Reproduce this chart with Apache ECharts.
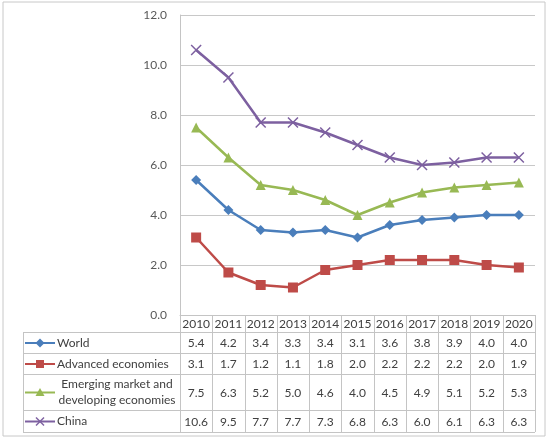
<!DOCTYPE html>
<html>
<head>
<meta charset="utf-8">
<script src="https://cdn.jsdelivr.net/npm/echarts@6/dist/echarts.min.js"></script>
<style>html,body{margin:0;padding:0;background:#fff}#c{width:550px;height:440px}</style>
</head>
<body>
<div id="c"></div>
<script>
const years = ['2010','2011','2012','2013','2014','2015','2016','2017','2018','2019','2020'];
const world = [5.4,4.2,3.4,3.3,3.4,3.1,3.6,3.8,3.9,4.0,4.0];
const advanced = [3.1,1.7,1.2,1.1,1.8,2.0,2.2,2.2,2.2,2.0,1.9];
const emerging = [7.5,6.3,5.2,5.0,4.6,4.0,4.5,4.9,5.1,5.2,5.3];
const china = [10.6,9.5,7.7,7.7,7.3,6.8,6.3,6.0,6.1,6.3,6.3];
const seriesNames = ['World','Advanced economies','Emerging market and\ndeveloping economies','China'];
const yTicks = [0,2,4,6,8,10,12];

const FONT = 'Lato';
const TXT = '#404040';
const LINE = '#c4c4c4';
const colors = ['#4a7ebb','#be4b48','#98b954','#7d60a0'];
const allData = [world, advanced, emerging, china];

// table layout (pixels)
const rowBounds = [315, 332, 353, 374, 410, 432];
const labelLeft = 23, tableRight = 535, plotLeft = 180;

const xPath = 'path://M0,0L10,10M10,0L0,10';
const symbols = ['diamond','rect','triangle', xPath];
const symSizes = [10, 10, 10, 10];

const chart = echarts.init(document.getElementById('c'), null, {renderer:'canvas'});

function markerGraphic(k, cx, cy) {
  const c = colors[k];
  if (k === 0) return {type:'polygon', shape:{points:[[cx,cy-4.5],[cx+4.5,cy],[cx,cy+4.5],[cx-4.5,cy]]}, style:{fill:c}};
  if (k === 1) return {type:'rect', shape:{x:cx-4,y:cy-4,width:8,height:8}, style:{fill:c}};
  if (k === 2) return {type:'polygon', shape:{points:[[cx,cy-4.5],[cx+4.5,cy+3.5],[cx-4.5,cy+3.5]]}, style:{fill:c}};
  return {type:'group', children:[
    {type:'line', shape:{x1:cx-4,y1:cy-4,x2:cx+4,y2:cy+4}, style:{stroke:c,lineWidth:1.5}},
    {type:'line', shape:{x1:cx+4,y1:cy-4,x2:cx-4,y2:cy+4}, style:{stroke:c,lineWidth:1.5}}
  ]};
}

const graphics = [];
graphics.push({type:'rect', shape:{x:3,y:2,width:542,height:434}, style:{fill:'none', stroke:'#c8c8c8', lineWidth:1}, silent:true});
// horizontal table lines
for (let i = 1; i < rowBounds.length; i++) {
  graphics.push({type:'line', shape:{x1:labelLeft, y1:rowBounds[i]+0.5, x2:tableRight, y2:rowBounds[i]+0.5}, style:{stroke:LINE, lineWidth:1}});
}
graphics.push({type:'line', shape:{x1:labelLeft+0.5, y1:rowBounds[1], x2:labelLeft+0.5, y2:rowBounds[5]}, style:{stroke:LINE, lineWidth:1}});
// legend keys + row labels
for (let k = 0; k < 4; k++) {
  const cy = (rowBounds[k+1] + rowBounds[k+2]) / 2 + 0.5;
  graphics.push({type:'line', shape:{x1:25, y1:cy, x2:55, y2:cy}, style:{stroke:colors[k], lineWidth:2}});
  graphics.push(markerGraphic(k, 40, cy));
  const two = seriesNames[k].indexOf('\n') >= 0;
  graphics.push({type:'text', x: two ? 117 : 57, y: cy, style:{text:seriesNames[k], fill:TXT, font:'12px ' + FONT, textAlign: two ? 'center' : 'left', textVerticalAlign:'middle', lineHeight:16}});
}

const lineSeries = allData.map((d, k) => ({
  name: seriesNames[k],
  type: 'line',
  data: d,
  symbol: symbols[k],
  symbolSize: symSizes[k],
  showSymbol: true,
  lineStyle: {color: colors[k], width: 2.5},
  itemStyle: {color: colors[k], borderColor: colors[k], borderWidth: k === 3 ? 1.5 : 0},
  z: 3
}));

const tableSeries = {
  type: 'custom',
  data: years.map((y, i) => [i, 0]),
  encode: {x: 0, y: 1},
  clip: false,
  silent: true,
  z: 5,
  renderItem: function(params, api) {
    const i = api.value(0);
    const p = api.coord([i, 0]);
    const w = api.size([1, 0])[0];
    const cx = p[0];
    const children = [];
    const hy = (rowBounds[0] + rowBounds[1]) / 2 + 1;
    children.push({type:'text', x: cx, y: hy, style:{text: years[i], fill: TXT, font: '12px ' + FONT, textAlign:'center', textVerticalAlign:'middle'}});
    for (let k = 0; k < 4; k++) {
      const cy = (rowBounds[k+1] + rowBounds[k+2]) / 2 + 1;
      children.push({type:'text', x: cx, y: cy, style:{text: allData[k][i].toFixed(1), fill: TXT, font: '12px ' + FONT, textAlign:'center', textVerticalAlign:'middle'}});
    }
    const xl = Math.round(cx - w / 2) + 0.5;
    children.push({type:'line', shape:{x1: xl, y1: rowBounds[0], x2: xl, y2: rowBounds[5]}, style:{stroke: LINE, lineWidth: 1}});
    if (i === years.length - 1) {
      const xr = Math.round(cx + w / 2) + 0.5;
      children.push({type:'line', shape:{x1: xr, y1: rowBounds[0], x2: xr, y2: rowBounds[5]}, style:{stroke: LINE, lineWidth: 1}});
    }
    return {type:'group', children: children};
  }
};

chart.setOption({
  animation: false,
  backgroundColor: '#ffffff',
  textStyle: {fontFamily: FONT},
  grid: {left: plotLeft, right: 550 - tableRight, top: 15, bottom: 440 - rowBounds[0], containLabel: false},
  xAxis: {
    type: 'category', data: years, boundaryGap: true,
    axisLabel: {show: false}, axisTick: {show: false},
    axisLine: {show: true, lineStyle: {color: LINE}},
    splitLine: {show: false}
  },
  yAxis: {
    type: 'value', min: yTicks[0], max: yTicks[yTicks.length-1], interval: 2,
    axisLine: {show: true, lineStyle: {color: LINE}},
    axisTick: {show: false},
    axisLabel: {color: '#595959', fontSize: 12, fontFamily: FONT, margin: 13, formatter: v => v.toFixed(1)},
    splitLine: {show: true, lineStyle: {color: '#c8c8c8', width: 1}}
  },
  graphic: graphics,
  series: lineSeries.concat([tableSeries])
});
</script>
</body>
</html>
